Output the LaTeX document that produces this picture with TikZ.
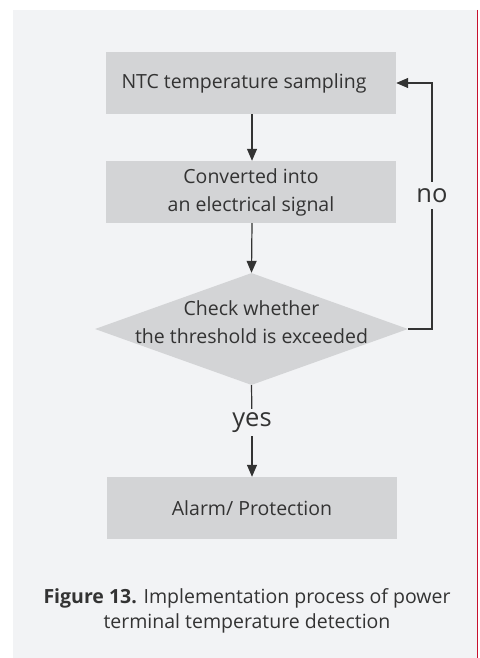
\documentclass[tikz,border=0pt]{standalone}
\usepackage{fontspec}
\setmainfont{Open Sans}
\usepackage{tikz}
\usetikzlibrary{shapes.geometric,arrows.meta,positioning,calc}

\definecolor{panelgray}{HTML}{F2F3F5}
\definecolor{boxgray}{HTML}{D3D4D6}
\definecolor{inkgray}{HTML}{333333}
\definecolor{rulered}{HTML}{C8102E}

\begin{document}
\begin{tikzpicture}[x=1pt, y=-1pt]
    % Stili
    \tikzset{
        stepbox/.style={rectangle, fill=boxgray, minimum width=290pt, minimum height=62pt, inner sep=0pt, text centered, align=center, text=inkgray, font=\fontsize{19.5}{28}\selectfont},
        decision/.style={diamond, fill=boxgray, minimum width=313pt, minimum height=112pt, inner sep=0pt},
        answer/.style={font=\fontsize{25.5}{28}\selectfont, text=inkgray, inner sep=0pt, minimum height=27pt},
        arrow/.style={-{Triangle[length=12pt,width=10pt]}, line width=1.2pt, draw=inkgray},
        plain/.style={line width=1.2pt, draw=inkgray}
    }

    % Sfondo
    \useasboundingbox (0,0) rectangle (479,658);
    \fill[white] (0,0) rectangle (479,658);
    \fill[panelgray] (13,10) rectangle (476.5,658);
    \draw[rulered, line width=1.2pt] (477.6,10) -- (477.6,658);

    % Blocchi del processo
    \node[stepbox] (sampling) at (251,83) {\hspace*{-14pt}NTC temperature sampling};
    \node[stepbox] (convert) at (251,192) {Converted into\\an electrical signal};
    \node[decision, label={[align=center, text=inkgray, font=\fontsize{19.5}{28}\selectfont, yshift=7pt]center:Check whether\\the threshold is exceeded}] (check) at (251.5,329) {};
    \node[stepbox] (alarm) at (252,508) {Alarm/ Protection};

    % Etichette delle uscite
    \node[answer] (yes) at (252,422.5) {yes};
    \node[answer] (no) at (432,195.5) {no};
    \coordinate (noright) at (432,329);
    \coordinate (notop) at (432,83);

    % Frecce
    \draw[arrow] (sampling.south -| 252,0) -- (convert.north -| 252,0);
    \draw[arrow] (convert.south -| 252,0) -- (check.north);
    \draw[plain] (check.south) -- (yes);
    \draw[arrow] (yes) -- (alarm.north -| yes);
    \draw[plain] (check.east) -- (noright) -- (no);
    \draw[arrow] (no) -- (notop) -- (sampling.east);

    % Didascalia
    \node[align=center, text=inkgray, font=\fontsize{19.5}{25}\selectfont] (caption) at (247,610.5) {\textbf{Figure 13.} Implementation process of power\\terminal temperature detection};
\end{tikzpicture}
\end{document}
